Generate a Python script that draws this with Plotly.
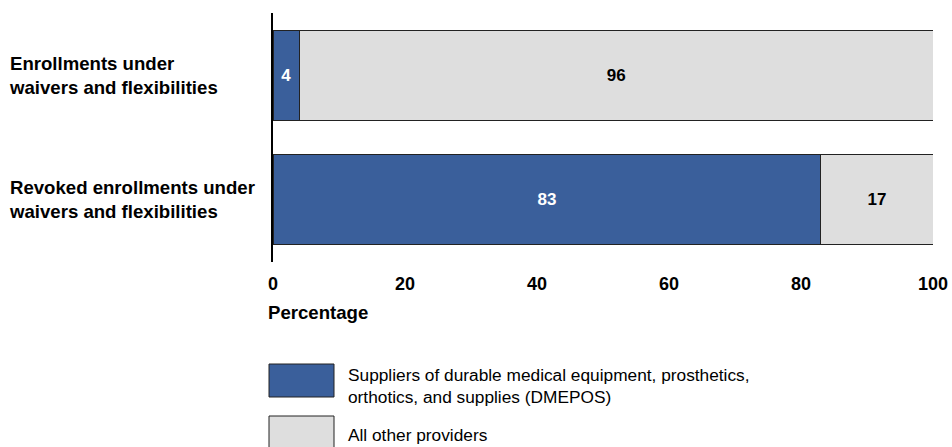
import plotly.graph_objects as go

categories = ["Enrollments under<br>waivers and flexibilities",
              "Revoked enrollments under<br>waivers and flexibilities"]
cat_keys = ["enroll", "revoked"]
dmepos = [4, 83]
others = [96, 17]
series_names = ["Suppliers of durable medical equipment, prosthetics,<br>orthotics, and supplies (DMEPOS)",
                "All other providers"]
x_ticks = [0, 20, 40, 60, 80, 100]

BLUE = "#3A5F9B"
GRAY = "#DEDEDE"
FONT = "Liberation Sans, Arial, sans-serif"

L, R, T, B = 273, 19, 13, 185
W, H = 952, 447
PW, PH = W - L - R, H - T - B

def px(x):
    return (x - L) / PW

def py(y):
    return (H - B - y) / PH

fig = go.Figure()
fig.add_trace(go.Bar(
    y=cat_keys, x=dmepos, orientation="h", name=series_names[0],
    marker=dict(color=BLUE, line=dict(color="#222222", width=1)),
    text=[str(v) for v in dmepos], textposition="inside", insidetextanchor="middle",
    textfont=dict(color="white", size=17, family=FONT, weight="bold"),
    width=0.72, showlegend=False,
))
fig.add_trace(go.Bar(
    y=cat_keys, x=others, orientation="h", name=series_names[1],
    marker=dict(color=GRAY, line=dict(color="#222222", width=1)),
    text=[str(v) for v in others], textposition="inside", insidetextanchor="middle",
    textfont=dict(color="black", size=17, family=FONT, weight="bold"),
    width=0.72, showlegend=False,
))

annotations = []
for key, lab in zip(cat_keys, categories):
    annotations.append(dict(
        x=px(7), xref="paper", y=key, yref="y", text=lab, showarrow=False,
        xanchor="left", yanchor="middle", align="left",
        font=dict(size=18.6, color="black", family=FONT, weight="bold"),
    ))
annotations.append(dict(
    x=px(266), xref="paper", y=py(313), yref="paper", text="Percentage",
    showarrow=False, xanchor="left", yanchor="middle",
    font=dict(size=18.6, color="black", family=FONT, weight="bold"),
))

shapes = []
legend_boxes = [(364, 397, BLUE), (416, 449, GRAY)]
legend_text_y = [386, 435]
for (y0, y1, c), ty, name in zip(legend_boxes, legend_text_y, series_names):
    shapes.append(dict(
        type="rect", xref="paper", yref="paper",
        x0=px(269), x1=px(334), y0=py(y1), y1=py(y0),
        fillcolor=c, line=dict(color="#222222", width=1),
    ))
    annotations.append(dict(
        x=px(346), xref="paper", y=py(ty), yref="paper", text=name,
        showarrow=False, xanchor="left", yanchor="middle", align="left",
        font=dict(size=17.3, color="black", family=FONT),
    ))

fig.update_layout(
    barmode="stack",
    width=W, height=H,
    margin=dict(l=L, r=R, t=T, b=B, pad=0, autoexpand=False),
    paper_bgcolor="white", plot_bgcolor="white",
    xaxis=dict(range=[0, 100], tickvals=x_ticks, ticktext=[str(t) for t in x_ticks],
               showgrid=False, zeroline=False, showline=False, ticks="",
               tickfont=dict(size=18, color="black", family=FONT, weight="bold"),
               ticklabelstandoff=9, automargin=False, fixedrange=True),
    yaxis=dict(range=[1.5, -0.5], showticklabels=False, showgrid=False, zeroline=False,
               showline=True, linecolor="black", linewidth=2, ticks="",
               automargin=False, fixedrange=True),
    annotations=annotations,
    shapes=shapes,
    uniformtext=dict(minsize=8, mode="show"),
)

fig.write_html("out.html")
